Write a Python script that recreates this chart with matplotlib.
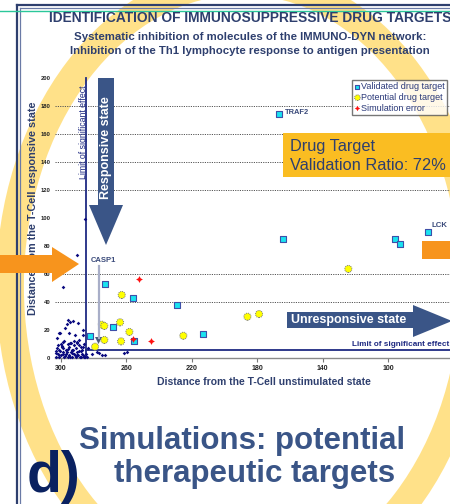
import matplotlib
matplotlib.use('Agg')
import matplotlib.pyplot as plt
from matplotlib.patches import Polygon, Ellipse, Rectangle

plt.rcParams['font.family'] = ['Liberation Sans', 'DejaVu Sans']

# ---------------- data ----------------
title = "IDENTIFICATION OF IMMUNOSUPPRESSIVE DRUG TARGETS"
subtitle1 = "Systematic inhibition of molecules of the IMMUNO-DYN network:"
subtitle2 = "Inhibition of the Th1 lymphocyte response to antigen presentation"
x_label = "Distance from the T-Cell unstimulated state"
y_label = "Distance from the T-Cell responsive state"
x_ticks = [300, 260, 220, 180, 140, 100]
y_ticks = [0, 20, 40, 60, 80, 100, 120, 140, 160, 180, 200]
grid_levels = [40, 60, 120, 140, 160, 180]
limit_x = 284.7
limit_y = 6.0
legend_labels = ["Validated drug target", "Potential drug target", "Simulation error"]

valid_x = [166.7, 164.0, 95.7, 92.8, 75.3, 272.9, 255.8, 229.2, 268.4, 282.5, 255.2, 213.3]
valid_y = [174.5, 85.2, 85.0, 81.2, 89.8, 52.9, 42.9, 37.6, 22.4, 15.7, 12.4, 17.4]

potential_x = [262.9, 275.1, 273.5, 263.9, 258.2, 273.5, 263.3, 225.2, 279.2, 186.0, 178.9, 124.3]
potential_y = [45.0, 23.8, 22.9, 25.5, 18.6, 12.9, 11.9, 15.9, 8.1, 29.5, 31.4, 63.6]

error_x = [252.1, 255.8, 244.9]
error_y = [56.4, 13.6, 12.1]

other_x = [298.6, 290.4, 285.3, 294.5, 292.8, 296.5, 289.4, 297.6, 295.1, 301.0, 302.3, 286.8,
           286.4, 291.4, 298.6, 294.5, 290.4, 286.4, 299.6, 295.5, 300.6, 278.2, 275.1, 281.2,
           259.8, 261.5, 284.0, 273.0, 277.0,
           303, 302, 301, 300, 299, 298, 297, 296, 295, 294, 293, 292, 291, 290, 289, 288, 287,
           286, 303, 301, 299, 297, 295, 293, 291, 289, 287, 302, 300, 298, 296, 294, 292, 290,
           288, 303, 301.5, 300.5, 298.5, 297.5, 296.5, 294.5, 293.5, 292.5, 291.5, 290.5, 289.5,
           288.5, 287.5, 286.5, 285.5, 284.5, 283.5, 302.5, 299.5, 296, 292, 289, 286]
other_y = [51.0, 73.6, 99.3, 25.9, 26.4, 24.0, 24.8, 21.4, 17.6, 17.6, 14.5, 20.0,
           16.4, 16.4, 11.7, 10.5, 11.7, 8.1, 8.1, 27.0, 17.6, 4.5, 2.1, 2.9,
           4.5, 3.3, 0.5, 2.1, 3.5,
           1, 3, 0.5, 2, 4, 1, 3, 0.5, 2, 4, 1, 3, 0.5, 2, 5, 1, 3,
           0.5, 5, 6, 7, 6, 8, 6, 7, 9, 6, 9, 10, 12, 10, 11, 9, 11,
           8, 3.5, 2.5, 5, 3, 1.5, 4.5, 0.8, 3.5, 5.5, 1.8, 4, 2.5,
           0.4, 4.8, 2.2, 1, 3, 7, 7.5, 8.5, 6.5, 12.5, 13, 10]

# ---------------- figure ----------------
W, H = 450, 504
fig = plt.figure(figsize=(W / 100, H / 100), dpi=100)
fig.patch.set_facecolor('white')

navy = '#1F2A82'
slate = '#2E3F6E'
steel = '#3A5587'
orange = '#F7941D'

# background layer (ring + frame)
bg = fig.add_axes([0, 0, 1, 1], zorder=0)
bg.set_xlim(0, W)
bg.set_ylim(H, 0)
bg.axis('off')
bg.add_patch(Ellipse((242, 286), 2 * 232, 2 * 305, fill=False, lw=20,
                     edgecolor='#FFD65C', alpha=0.72))
bg.plot([17, 17], [5, H], color=slate, lw=1.6)
bg.plot([20, 20], [8, H], color='#6A7AA6', lw=0.9)
bg.plot([17, W], [5, 5], color=slate, lw=1.6)
bg.plot([20, W], [8, 8], color='#6A7AA6', lw=0.9)
bg.plot([0, W], [11, 11], color='#2BC79A', lw=1.0)

# chart axes
ax = fig.add_axes([54.5 / W, (H - 358) / H, 395.7 / W, 280 / H], zorder=1)
ax.patch.set_alpha(0)
ax.set_xlim(304, 62)
ax.set_ylim(0, 200)
for s in ['top', 'right', 'left']:
    ax.spines[s].set_visible(False)
ax.spines['bottom'].set_color('#8A8A8A')
ax.spines['bottom'].set_linewidth(1.0)
ax.set_xticks(x_ticks)
ax.set_yticks(y_ticks)
ax.tick_params(axis='x', length=3, color='#777777', labelsize=5, pad=2, labelcolor='#222222')
ax.tick_params(axis='y', length=0, labelsize=4.2, pad=3, labelcolor='#222222')
for lab in ax.get_xticklabels() + ax.get_yticklabels():
    lab.set_fontweight('bold')
for g in grid_levels:
    ax.axhline(g, color='#555555', lw=0.7, ls=(0, (1.2, 1.2)), zorder=1)

ax.plot([limit_x, limit_x], [0, 200], color=navy, lw=1.3, zorder=2, clip_on=False)
ax.plot([limit_x, 62], [limit_y, limit_y], color=navy, lw=1.3, zorder=2, clip_on=False)

ax.scatter(other_x, other_y, marker='D', s=3.5, color='#0A0A80', lw=0, zorder=3, clip_on=False)
h_valid = ax.scatter(valid_x, valid_y, marker='s', s=20, facecolor='#19E3F0',
                     edgecolor='#3E4FA8', lw=0.8, zorder=5)
h_pot = ax.scatter(potential_x, potential_y, marker='o', s=26, facecolor='#FFFF00',
                   edgecolor='#777777', lw=0.7, linestyle=(0, (1, 1)), zorder=4)
h_err = ax.scatter(error_x, error_y, marker=(4, 1, 0), s=24, color='#FF1010', lw=0, zorder=6)

leg = ax.legend([h_valid, h_pot, h_err], legend_labels, loc='upper left',
                bbox_to_anchor=(352 / W, 1 - 80 / H), bbox_transform=fig.transFigure,
                fontsize=6.5, frameon=True, fancybox=False, edgecolor='#555555',
                borderpad=0.25, handletextpad=0.1, handlelength=0.7, labelspacing=0.2,
                borderaxespad=0, markerscale=0.8)
leg.get_frame().set_linewidth(1.0)
for t in leg.get_texts():
    t.set_color('#2B3A7A')
leg.set_zorder(10)

# point labels
ax.annotate("TRAF2", (valid_x[0], valid_y[0]), xytext=(4, 1), textcoords='offset points',
            fontsize=5.4, fontweight='bold', color='#3A4A7A', va='center', ha='left')
ax.annotate("LCK", (valid_x[4], valid_y[4]), xytext=(2, 5), textcoords='offset points',
            fontsize=5.6, fontweight='bold', color='#3A4A7A', va='center', ha='left')
ax.set_xlabel(x_label, fontsize=7.5, fontweight='bold', color=slate, labelpad=8)
ax.xaxis.set_label_coords((264 - 54.5) / 395.7, -(382 - 358) / 280)
ax.set_ylabel(y_label, fontsize=7.8, fontweight='bold', color=slate)
ax.yaxis.set_label_coords(-(54.5 - 33) / 395.7, (358 - 208) / 280)
ax.xaxis.label.set_va('center')
ax.yaxis.label.set_va('center')

# overlay layer
ov = fig.add_axes([0, 0, 1, 1], zorder=2)
ov.set_xlim(0, W)
ov.set_ylim(H, 0)
ov.axis('off')
ov.patch.set_alpha(0)

ov.text(250, 18, title, fontsize=9.9, fontweight='bold', color=slate, ha='center', va='center')
ov.text(250, 37, subtitle1, fontsize=8.2, fontweight='bold', color=slate, ha='center', va='center')
ov.text(250, 51, subtitle2, fontsize=8.2, fontweight='bold', color=slate, ha='center', va='center')

# responsive state arrow
ov.add_patch(Polygon([(98, 78), (114, 78), (114, 205), (123, 205), (106, 245), (89, 205), (98, 205)],
                     closed=True, facecolor=steel, edgecolor='none'))
ov.text(106, 148, "Responsive state", rotation=90, color='white', fontsize=9,
        fontweight='bold', ha='center', va='center')
ov.text(83, 132, "Limit of significant effect", rotation=90, color=navy, fontsize=6.3,
        ha='center', va='center')

# unresponsive state arrow
ov.add_patch(Polygon([(287, 312), (413, 312), (413, 305), (452, 321), (413, 337), (413, 328), (287, 328)],
                     closed=True, facecolor=steel, edgecolor='none'))
ov.text(349, 320, "Unresponsive state", color='white', fontsize=9, fontweight='bold',
        ha='center', va='center')
ov.text(352, 344, "Limit of significant effect", color=navy, fontsize=5.9, fontweight='bold',
        ha='left', va='center')

# orange elements
ov.add_patch(Polygon([(0, 255), (52, 255), (52, 247), (79, 264), (52, 282), (52, 273), (0, 273)],
                     closed=True, facecolor=orange, edgecolor='none'))
ov.add_patch(Rectangle((422, 241), 30, 18, facecolor=orange, edgecolor='none'))
ov.add_patch(Rectangle((283, 133), 170, 44, facecolor='#FABD22', edgecolor='none'))
ov.text(290, 147, "Drug Target", color=slate, fontsize=11.8, ha='left', va='center')
ov.text(290, 166, "Validation Ratio: 72%", color=slate, fontsize=11.8, ha='left', va='center')

# CASP1 pointer
ov.text(103, 260, "CASP1", color='#3A4A7A', fontsize=5.5, fontweight='bold', ha='center', va='center')
ov.plot([98.5, 98.5], [266, 338], color='#A8AEC8', lw=1.6)
ov.add_patch(Polygon([(95, 337), (102, 337), (98.5, 344)], closed=True, facecolor='#4A5A7A',
                     edgecolor='none'))

# big text
ov.text(242, 441, "Simulations: potential", color=steel, fontsize=22.5, fontweight='bold',
        ha='center', va='center')
ov.text(255, 474, "therapeutic targets", color=steel, fontsize=22.5, fontweight='bold',
        ha='center', va='center')
ov.text(27, 492, "d)", color='#0A2160', fontsize=41, fontweight='bold', ha='left', va='baseline')

fig.savefig('out.png', dpi=100, facecolor='white')
